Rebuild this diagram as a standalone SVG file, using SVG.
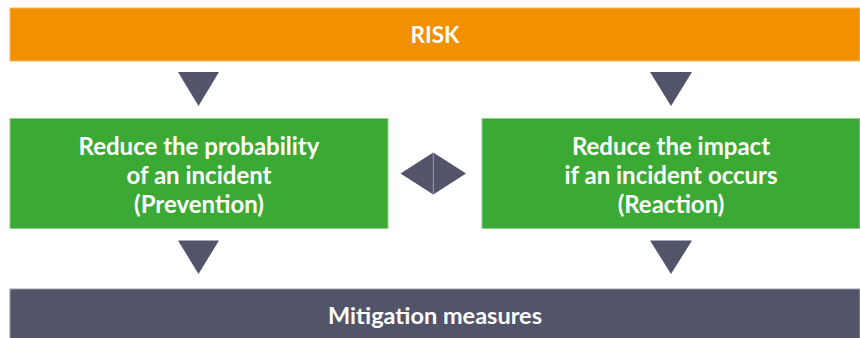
<svg xmlns="http://www.w3.org/2000/svg" width="860" height="338" viewBox="0 0 860 338">
<style>
.t{font-family:Lato,"Open Sans","Liberation Sans",sans-serif;font-weight:bold;fill:#fff;text-anchor:middle;font-size:24px}
.tri{fill:#52546A}
</style>
<rect width="860" height="338" fill="#fff"/>
<g id="risk">
<rect x="10" y="8" width="850" height="53" fill="#F29100" stroke="#F7B766" stroke-width="1"/>
<text class="t" x="435" y="43" style="font-size:22.5px">RISK</text>
</g>
<g id="prevention">
<rect x="10" y="118.5" width="378" height="110" fill="#3BAA35" stroke="#8FCF8B" stroke-width="1"/>
<text class="t" x="199" y="155">Reduce the probability</text>
<text class="t" x="199" y="184">of an incident</text>
<text class="t" x="199" y="213">(Prevention)</text>
</g>
<g id="reaction">
<rect x="482" y="118.5" width="378" height="110" fill="#3BAA35" stroke="#8FCF8B" stroke-width="1"/>
<text class="t" x="671" y="155">Reduce the impact</text>
<text class="t" x="671" y="184">if an incident occurs</text>
<text class="t" x="671" y="213">(Reaction)</text>
</g>
<g id="mitigation">
<rect x="10" y="289" width="850" height="50" fill="#52546A" stroke="#9A9BA8" stroke-width="1"/>
<text class="t" x="435" y="324" style="font-size:23.5px">Mitigation measures</text>
</g>
<g id="connectors">
<polygon class="tri" points="178,72 219,72 198.5,106"/>
<polygon class="tri" points="650,72 692,72 671,106"/>
<polygon class="tri" points="178,240.5 219,240.5 198.5,274"/>
<polygon class="tri" points="650,240.5 692,240.5 671,274"/>
<polygon class="tri" points="400.5,173.5 433.3,152.5 466,173.5 433.3,194.5"/>
<line x1="433.3" y1="153" x2="433.3" y2="194" stroke="#9A9BB0" stroke-width="1"/>
</g>
</svg>
